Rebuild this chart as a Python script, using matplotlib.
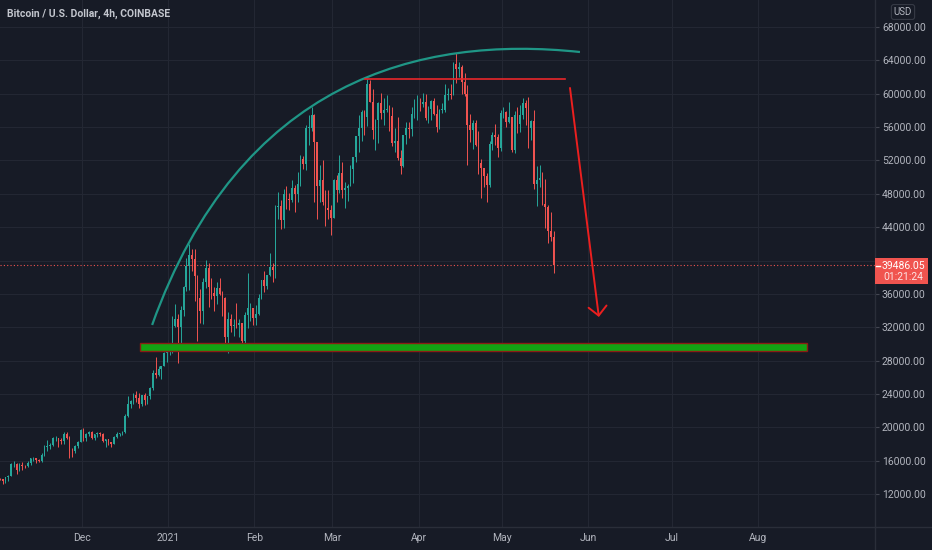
import matplotlib
matplotlib.use("Agg")
import matplotlib.pyplot as plt
import matplotlib.dates as mdates
from matplotlib.path import Path
from matplotlib.patches import PathPatch, Rectangle
from matplotlib.lines import Line2D
import numpy as np
import pandas as pd

plt.rcParams['font.family'] = ['Roboto', 'DejaVu Sans']

# velas diarias (BTC/USD), 2020-11-01 .. 2021-05-19
cierres_nov = [13760,13550,14030,14150,15590,15590,14840,15480,15330,15310,15700,16290,16330,16080,15960,
               16730,17660,17800,17820,18680,18700,18420,18370,19160,18720,17150,17140,17730,18190,19700]
maximos_nov = [13900,13830,14070,14260,15750,15970,15770,15660,15840,15470,15970,16350,16480,16340,16150,
               16900,17860,18480,18140,18820,18960,18770,18770,19400,19490,18900,17460,17880,18340,19850]
minimos_nov = [13620,13200,13290,13550,14100,15200,14350,14710,14820,15100,15280,15450,15960,15720,15780,
               15870,16570,17210,17350,17760,18350,17620,18000,18020,18600,16300,16480,16880,17530,18180]

cierres_dic = [18770,19220,19450,18710,19150,19360,19170,18330,18550,18260,18040,18810,19170,19270,19440,
               21380,22840,23130,23860,23480,22740,23820,23250,23720,24700,26480,26280,27040,27390,28900,29000]
maximos_dic = [19920,19340,19580,19500,19160,19420,19410,19290,18640,18560,18280,18940,19410,19350,19570,
               21560,23800,23290,24170,24300,24120,23850,24150,23790,24800,26880,28420,27400,27390,28990,29300]
minimos_dic = [18320,18330,18920,18580,18530,18870,18920,18200,17650,17920,17580,18000,18730,19000,19060,
               19300,21250,22350,22800,23070,22350,22600,22730,22740,23440,24500,25860,26100,25830,27320,27850]

cierres_ene = [29400,32200,33000,32030,34050,36850,39400,40600,40150,38200,35550,34000,37400,39150,36800,
               36050,35800,36650,36000,35550,30850,33000,32100,32300,32250,32500,30400,33450,34300,34300,33100]
maximos_ene = [29680,33300,34780,33600,34500,36950,40350,41950,41350,41400,38300,36600,37850,40100,39700,
               37950,36850,37450,37850,36400,35600,33850,33600,32950,34900,32950,32550,33800,38550,34900,34350]
minimos_ene = [28650,28950,32000,27700,29900,33400,36350,36500,38750,35200,30400,32500,32400,36700,34400,
               35400,33900,34800,35900,33400,30100,28850,31400,30900,31950,30850,29250,29950,31900,32800,32300]

cierres_feb = [33550,35500,37650,36950,38300,39250,38850,46400,46500,44850,47950,47400,47200,48650,
               47950,49150,52150,51600,55900,55900,57500,54200,48900,49700,47000,46300,46100,45150]
maximos_feb = [34700,35950,37650,38700,38300,40900,39750,46700,48200,47300,48600,48950,48100,49700,
               49000,50600,52600,52550,56300,57500,58350,57550,54200,51400,52050,48400,48400,46600]
minimos_feb = [32300,33450,35400,36200,36600,38200,37400,37900,45000,43800,43950,46200,46100,47050,
               45800,47000,48950,50950,50800,53800,55500,47000,45000,47000,46700,44150,45000,43000]

cierres_mar = [49600,48400,50500,48400,48750,48900,50950,52400,54900,55900,57800,57250,61200,59000,55600,
               56900,58900,57650,58100,58100,57350,54100,54350,52300,51300,55050,55850,55800,57600,58750,58800]
maximos_mar = [49800,50200,52650,51800,49450,49200,51450,52400,54900,57400,58100,58000,61800,61650,60600,
               56950,58950,60100,59450,59900,58600,58400,55850,57200,53250,55100,56600,56550,58400,59400,59800]
minimos_mar = [45050,47050,48150,47500,46300,47100,48900,49300,51850,53050,54300,55000,56100,58950,54600,
               53300,54150,57000,56300,57850,55500,53700,53000,52100,50400,51250,53950,54700,54950,57050,56850]

cierres_abr = [58750,59000,57100,58200,59100,57600,56000,58100,58100,59800,59950,59850,63600,62950,63200,
               61400,60000,56200,55700,56500,53800,51700,51150,50100,49100,54000,55050,54850,53550,57700]
maximos_abr = [59500,60050,60000,58500,59250,59450,58650,58150,58900,61200,60700,61200,63800,64900,63800,
               63500,62500,61000,57550,56800,56800,55500,52150,51150,50500,54300,55450,56400,55200,58000]
minimos_abr = [57950,58450,56900,56500,56800,57400,55450,55800,57700,57850,59300,59400,59850,61300,62050,
               60000,59700,51500,54200,53400,53700,50400,47500,48800,47050,48850,53300,53900,52400,53100]

cierres_may = [57800,56600,57200,53250,57450,56400,57400,58900,58250,55850,56700,49150,49700,49900,46750,
               46450,43550,42850,39486.05]
maximos_may = [58450,57900,58950,57200,57900,58350,58650,59500,59300,59600,56900,58000,51350,51500,50650,
               49800,46600,45800,43550]
minimos_may = [57050,56050,56500,53050,52900,55300,55400,56950,56250,53500,54400,48600,46500,48800,46600,
               43850,42100,42300,38500]

apertura_inicial = 13780
precio_actual = 39486.05
tiempo_vela = "01:21:24"

etiquetas_y = list(range(12000, 68001, 4000))
meses = ["2020-12-01", "2021-01-01", "2021-02-01", "2021-03-01", "2021-04-01",
         "2021-05-01", "2021-06-01", "2021-07-01", "2021-08-01"]
etiquetas_x = ["Dec", "2021", "Feb", "Mar", "Apr", "May", "Jun", "Jul", "Aug"]

# dibujos sobre el grafico
soporte_fechas = ["2020-12-21 20:00", "2021-08-18 14:00"]
soporte_precios = [29185, 30143]
techo_fechas = ["2021-03-12 17:00", "2021-05-23 15:00"]
techo_precio = 61765
flecha_fechas = ["2021-05-25 10:00", "2021-06-04 19:00"]
flecha_precios = [60690, 33230]
arco_fechas = ["2020-12-26 05:00", "2021-01-26 19:00", "2021-04-01 12:00", "2021-05-29 00:00"]
arco_precios = [32270, 61645, 67040, 65000]

cierres = np.array(cierres_nov + cierres_dic + cierres_ene + cierres_feb + cierres_mar + cierres_abr + cierres_may)
maximos = np.array(maximos_nov + maximos_dic + maximos_ene + maximos_feb + maximos_mar + maximos_abr + maximos_may)
minimos = np.array(minimos_nov + minimos_dic + minimos_ene + minimos_feb + minimos_mar + minimos_abr + minimos_may)
aperturas = np.concatenate([[apertura_inicial], cierres[:-1]])
fechas = pd.date_range("2020-11-01", periods=len(cierres), freq="D")

fondo = '#171b26'
rejilla = '#232733'
texto = '#b2b5be'

fig = plt.figure(figsize=(9.32, 5.5), dpi=100, facecolor=fondo)
ax = fig.add_axes([0, 23/550, 875/932, 527/550], facecolor=fondo)

x = mdates.date2num(fechas) + 0.5
sube = cierres >= aperturas
colores = np.where(sube, '#26a69a', '#ef5350')
ax.vlines(x, minimos, maximos, colors=colores, lw=0.7, zorder=3)
ax.bar(x, np.maximum(np.abs(cierres - aperturas), 60), bottom=np.minimum(aperturas, cierres),
       width=0.6, color=colores, lw=0, zorder=3)

# precio actual
ax.axhline(precio_actual, color='#ef5350', ls=(0, (1, 2)), lw=0.8, zorder=2)

# arco
fn = lambda s: mdates.date2num(pd.Timestamp(s))
verts = [(fn(f), p) for f, p in zip(arco_fechas, arco_precios)]
arco = Path(verts, [Path.MOVETO, Path.CURVE4, Path.CURVE4, Path.CURVE4])
ax.add_patch(PathPatch(arco, fill=False, ec='#1f9686', lw=1.6, zorder=4))

# linea de resistencia
ax.plot([fn(techo_fechas[0]), fn(techo_fechas[1])], [techo_precio, techo_precio],
        color='#e8262a', lw=1.2, zorder=4)

# flecha
ax.annotate('', xy=(fn(flecha_fechas[1]), flecha_precios[1]),
            xytext=(fn(flecha_fechas[0]), flecha_precios[0]),
            arrowprops=dict(arrowstyle='->,head_length=0.65,head_width=0.65', color='#ec1f1f',
                            lw=1.4, shrinkA=0, shrinkB=0), zorder=4)

# zona de soporte
x0 = fn(soporte_fechas[0])
ax.add_patch(Rectangle((x0, soporte_precios[0]), fn(soporte_fechas[1]) - x0,
                       soporte_precios[1] - soporte_precios[0],
                       fc='#13a313', ec='#8a1d14', lw=1.0, zorder=5))

# ejes
dic1 = fn("2020-12-01")
ago1 = fn("2021-08-01")
ppd = (758 - 82) / (ago1 - dic1)
ax.set_xlim(dic1 - 82/ppd, dic1 + (875 - 82)/ppd)
ax.set_ylim(8043, 71238)

ax.set_xticks([fn(m) for m in meses])
ax.set_xticklabels(etiquetas_x)
ax.yaxis.tick_right()
ax.set_yticks(etiquetas_y)
# la etiqueta de 40000 queda tapada por la del precio actual
ax.set_yticklabels(["" if v == 40000 else f"{v:.2f}" for v in etiquetas_y])
ax.tick_params(axis='x', length=0, pad=4.5, labelsize=7.5, labelcolor=texto)
ax.tick_params(axis='y', length=3, width=0.8, color='#434651', pad=2, labelsize=7.5, labelcolor=texto)
ax.grid(True, color=rejilla, lw=0.8)
ax.set_axisbelow(True)
for s in ax.spines.values():
    s.set_visible(False)

fig.add_artist(Line2D([875/932, 875/932], [0, 1], color='#2a2e39', lw=1))
fig.add_artist(Line2D([0, 1], [23/550, 23/550], color='#2a2e39', lw=1))

# etiqueta del precio
fig.add_artist(Rectangle((875/932, 1 - 284/550), 53/932, 26/550, transform=fig.transFigure,
                         fc='#f0544f', ec='none', zorder=5))
fig.add_artist(Line2D([876/932, 880/932], [1 - 266/550, 1 - 266/550], color='white', lw=1, zorder=6))
fig.text(903/932, 1 - 266/550, f"{precio_actual:.2f}", ha='center', va='center',
         color='white', fontsize=7.5, zorder=6)
fig.text(903/932, 1 - 277.5/550, tiempo_vela, ha='center', va='center',
         color='#fde3e3', fontsize=7.5, zorder=6)

fig.text(903/932, 1 - 12/550, "USD", ha='center', va='center', color=texto, fontsize=7,
         bbox=dict(boxstyle='round,pad=0.25', fc=fondo, ec='#363a45', lw=0.8))

fig.text(7/932, 1 - 14/550, "Bitcoin / U.S. Dollar, 4h, COINBASE", ha='left', va='center',
         color='#c3c6ce', fontsize=7.5, fontweight='semibold')

fig.savefig("out.png", dpi=100, facecolor=fondo)
